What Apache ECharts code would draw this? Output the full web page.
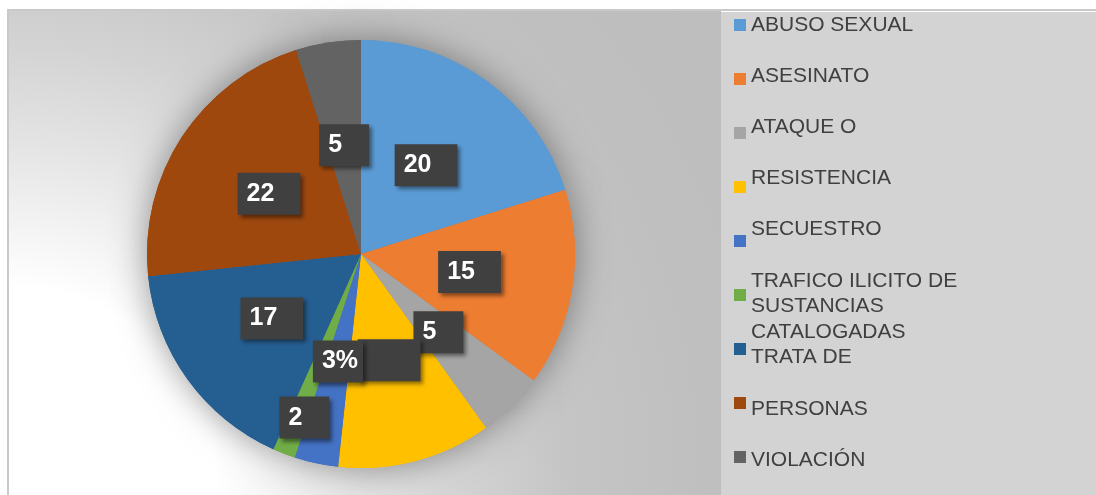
<!DOCTYPE html>
<html>
<head>
<meta charset="utf-8">
<script src="https://cdn.jsdelivr.net/npm/echarts@6/dist/echarts.min.js"></script>
<style>
html,body{margin:0;padding:0;background:#fff;}
#chart{width:1096px;height:495px;}
</style>
</head>
<body>
<div id="chart"></div>
<script>
// ---- data ----
const categories = ['ABUSO SEXUAL','ASESINATO','ATAQUE O','RESISTENCIA','SECUESTRO','TRAFICO ILICITO DE SUSTANCIAS CATALOGADAS','TRATA DE','PERSONAS','VIOLACIÓN'];
const values = [20.1, 14.9, 5.0, 11.6, 3.3, 1.7, 16.6, 21.7, 4.9];
const labelTexts = ['20','15','5','12','3%','2','17','22','5'];
const legendLines = ['ABUSO SEXUAL','ASESINATO','ATAQUE O','RESISTENCIA','SECUESTRO','TRAFICO ILICITO DE\nSUSTANCIAS\nCATALOGADAS','TRATA DE','PERSONAS','VIOLACIÓN'];
const colors = ['#5B9BD5','#ED7D31','#A5A5A5','#FFC000','#4472C4','#70AD47','#255E91','#9E480E','#636363'];

// ---- layout helpers ----
const legendSlots = [0,2,4,6,8,10,13,15,17];
const linePitch = 25.6;
const FONT = '"Liberation Sans", Arial, sans-serif';

function boxPadding(txt){
  const w = txt.length === 1 ? 50 : (txt.indexOf('%') >= 0 ? 50 : 63);
  const textW = txt.indexOf('%') >= 0 ? 36 : txt.length * 13.9;
  return [10, Math.max(3, Math.round(w - textW - 9)), 7, 9];
}

const mainData = categories.map((name, i) => {
  const item = { name, value: values[i], itemStyle: { color: colors[i] },
    label: { padding: boxPadding(labelTexts[i]) } };
  if (name === 'RESISTENCIA') item.label.color = 'rgba(0,0,0,0)';
  if (name.indexOf('TRAFICO') === 0) item.label.offset = [-17, 61];
  return item;
});
const shadowData = categories.map((name, i) => ({ name, value: values[i], itemStyle: { color: colors[i] } }));

const graphics = [
  { type: 'rect', z: -20, silent: true, shape: { x: 8, y: 10, width: 1100, height: 500 },
    style: { fill: '#fff', stroke: '#c9c9c9', lineWidth: 2 } },
  { type: 'rect', z: -19, silent: true, shape: { x: 9, y: 11, width: 712, height: 484 },
    style: { fill: new echarts.graphic.RadialGradient(10, 495, 900, [
      { offset: 0, color: '#ffffff' },
      { offset: 0.23, color: '#ffffff' },
      { offset: 0.39, color: '#e4e4e4' },
      { offset: 0.5, color: '#d3d3d3' },
      { offset: 0.62, color: '#c5c5c5' },
      { offset: 0.78, color: '#bfbfbf' },
      { offset: 1, color: '#bdbdbd' }
    ], true) } },
  { type: 'rect', z: -18, silent: true, shape: { x: 721, y: 12, width: 380, height: 490 },
    style: { fill: '#d3d3d3' } }
];
legendLines.forEach((t, i) => {
  graphics.push({ type: 'text', z: 10, silent: true,
    style: { text: t, x: 751, y: 12 + legendSlots[i] * linePitch, fill: '#404040',
      font: '21px ' + FONT, lineHeight: linePitch, verticalAlign: 'top', align: 'left' } });
});

const chart = echarts.init(document.getElementById('chart'));
chart.setOption({
  animation: false,
  backgroundColor: '#fff',
  graphic: graphics,
  legend: {
    orient: 'vertical', left: 734, top: 19, padding: 0,
    itemWidth: 12, itemHeight: 12, itemGap: 42, icon: 'rect',
    selectedMode: false,
    data: categories,
    formatter: () => '',
    textStyle: { fontSize: 8, lineHeight: 12 }
  },
  series: [
    {
      type: 'pie', name: 'main', z: 5,
      center: [361, 254], radius: 214, startAngle: 90, clockwise: true,
      avoidLabelOverlap: false, silent: true,
      minShowLabelAngle: 0,
      labelLayout: { hideOverlap: false },
      emphasis: { disabled: true },
      itemStyle: { borderWidth: 0 },
      label: {
        show: true, position: 'inside',
        formatter: p => labelTexts[p.dataIndex],
        color: '#fff', fontFamily: FONT, fontWeight: 'bold', fontSize: 25, lineHeight: 25,
        backgroundColor: '#404040',
        shadowBlur: 4, shadowOffsetX: 3, shadowOffsetY: 3, shadowColor: 'rgba(0,0,0,0.45)'
      },
      labelLine: { show: false },
      data: mainData
    },
    {
      type: 'pie', name: 'shadow', z: 1,
      center: [361, 254], radius: 214, startAngle: 90, clockwise: true,
      silent: true, emphasis: { disabled: true }, legendHoverLink: false,
      itemStyle: { shadowBlur: 35, shadowColor: 'rgba(0,0,0,0.4)' },
      label: { show: false }, labelLine: { show: false },
      data: shadowData
    }
  ]
});
</script>
</body>
</html>
